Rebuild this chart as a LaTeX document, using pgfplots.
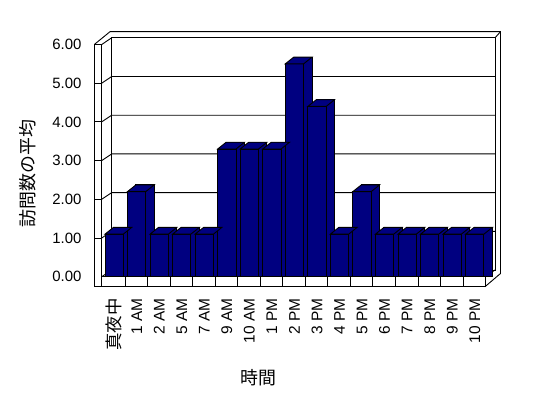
\documentclass[border=0pt]{standalone}
\usepackage{fontspec}
\setmainfont{Liberation Sans}
\newfontfamily\jp{Noto Sans CJK JP}
\usepackage{pgfplots}
\usepackage{pgfplotstable}
\pgfplotsset{compat=1.18}
\definecolor{barnavy}{RGB}{0,0,128}

\pgfplotstableread{
i v
0 1.1
1 2.2
2 1.1
3 1.1
4 1.1
5 3.3
6 3.3
7 3.3
8 5.5
9 4.4
10 1.1
11 2.2
12 1.1
13 1.1
14 1.1
15 1.1
16 1.1
}\visits

\pgfdeclareplotmark{topface}{%
  \pgfpathmoveto{\pgfpoint{-9.15bp}{0bp}}%
  \pgfpathlineto{\pgfpoint{9.15bp}{0bp}}%
  \pgfpathlineto{\pgfpoint{17.55bp}{6.7bp}}%
  \pgfpathlineto{\pgfpoint{-0.75bp}{6.7bp}}%
  \pgfpathclose
  \pgfusepathqfillstroke}

\begin{document}
\begin{tikzpicture}
\useasboundingbox (0,0) rectangle (548bp,398bp);
\begin{axis}[
  at={(94.3bp,111.3bp)}, anchor=south west,
  scale only axis, width=406.2bp, height=255bp,
  xmin=-0.8807, xmax=17.141, ymin=-0.2584, ymax=6.331,
  clip=false,
  axis line style={draw=none},
  tick style={draw=none},
  xtick={0,...,16},
  xticklabels={{\jp\fontsize{17.5}{19}\selectfont 真夜中},1 AM,2 AM,5 AM,7 AM,9 AM,10 AM,1 PM,2 PM,3 PM,4 PM,5 PM,6 PM,7 PM,8 PM,9 PM,10 PM},
  ytick={0,...,6},
  yticklabels={0.00,1.00,2.00,3.00,4.00,5.00,6.00},
  yticklabel style={font=\fontsize{15}{17}\selectfont, anchor=east, inner sep=0pt, xshift=-12.6bp},
  xticklabel style={font=\fontsize{15.5}{17}\selectfont, inner sep=0pt, rotate=90, anchor=east},
  xticklabel shift=11.6bp,
  xlabel={時間}, ylabel={訪問数の平均},
  label style={font=\jp\fontsize{18}{20}\selectfont},
  xlabel style={at={(rel axis cs:0.4037,-0.356)}, anchor=center},
  ylabel style={at={(rel axis cs:-0.1645,0.4439)}, anchor=center},
]
% back wall
\addplot[fill=white, draw=black, line width=0.9bp] coordinates {(-0.1087,0.173) (16.897,0.173) (16.897,6.173) (-0.1087,6.173) (-0.1087,0.173)};
\addplot[draw=black, line width=0.9bp] coordinates {(-0.5524,1) (-0.1087,1.173) (16.897,1.173)};
\addplot[draw=black, line width=0.9bp] coordinates {(-0.5524,2) (-0.1087,2.173) (16.897,2.173)};
\addplot[draw=black, line width=0.9bp] coordinates {(-0.5524,3) (-0.1087,3.173) (16.897,3.173)};
\addplot[draw=black, line width=0.9bp] coordinates {(-0.5524,4) (-0.1087,4.173) (16.897,4.173)};
\addplot[draw=black, line width=0.9bp] coordinates {(-0.5524,5) (-0.1087,5.173) (16.897,5.173)};
\addplot[draw=black, line width=0.9bp] coordinates {(-0.5524,0) (-0.1087,0.173)};
% left wall front face and ticks
\addplot[fill=white, draw=black, line width=0.9bp] coordinates {(-0.8807,-0.2584) (-0.5524,-0.2584) (-0.5524,6) (-0.8807,6) (-0.8807,-0.2584)};
\addplot[draw=black, line width=0.9bp] coordinates {(-0.8807,1) (-0.5524,1)};
\addplot[draw=black, line width=0.9bp] coordinates {(-0.8807,2) (-0.5524,2)};
\addplot[draw=black, line width=0.9bp] coordinates {(-0.8807,3) (-0.5524,3)};
\addplot[draw=black, line width=0.9bp] coordinates {(-0.8807,4) (-0.5524,4)};
\addplot[draw=black, line width=0.9bp] coordinates {(-0.8807,5) (-0.5524,5)};
% top slab and right side
\addplot[draw=black, line width=0.9bp] coordinates {(-0.8807,6) (-0.1841,6.331) (17.141,6.331) (17.141,0.083) (16.453,-0.2584)};
\addplot[draw=black, line width=0.9bp] coordinates {(-0.5524,6) (-0.1087,6.173)};
\addplot[draw=black, line width=0.9bp] coordinates {(16.897,6.173) (17.141,6.331)};
% floor
\addplot[fill=white, draw=black, line width=0.9bp] coordinates {(-0.5524,-0.2584) (16.453,-0.2584) (16.453,0) (-0.5524,0) (-0.5524,-0.2584)};
\addplot[draw=black, line width=0.9bp] coordinates {(16.453,0) (16.897,0.173)};
\addplot[ycomb, draw=black, line width=0.9bp] coordinates {(0.481,-0.2584) (1.481,-0.2584) (2.481,-0.2584) (3.481,-0.2584) (4.481,-0.2584) (5.481,-0.2584) (6.481,-0.2584) (7.481,-0.2584) (8.481,-0.2584) (9.481,-0.2584) (10.481,-0.2584) (11.481,-0.2584) (12.481,-0.2584) (13.481,-0.2584) (14.481,-0.2584) (15.481,-0.2584)};
% bars: back copy (side), top face, front face
\addplot[ybar, bar width=18.3bp, bar shift=8.4bp, fill=barnavy, draw=black, line width=0.9bp] table[x=i, y expr=\thisrow{v}+0.173]{\visits};
\addplot[only marks, mark=topface, draw=black, fill=barnavy, mark options={solid, line width=0.9bp, draw=black, fill=barnavy}] table[x=i, y=v]{\visits};
\addplot[ybar, bar width=18.3bp, bar shift=0pt, fill=barnavy, draw=black, line width=0.9bp] table[x=i, y=v]{\visits};
\end{axis}
\end{tikzpicture}
\end{document}
